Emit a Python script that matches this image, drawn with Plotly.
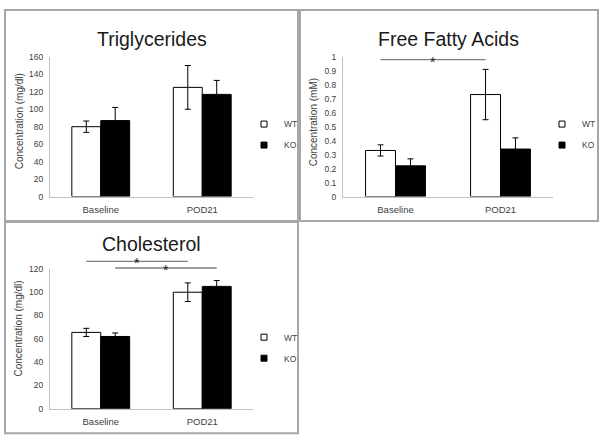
import plotly.graph_objects as go

W, H = 602, 444

# ---------------- data ----------------
categories = ["Baseline", "POD21"]
groups = ["WT", "KO"]

tg_wt = [80, 125]
tg_wt_err = [6.5, 25]
tg_ko = [87, 117]
tg_ko_err = [15, 16]

ffa_wt = [0.33, 0.73]
ffa_wt_err = [0.04, 0.18]
ffa_ko = [0.22, 0.34]
ffa_ko_err = [0.05, 0.08]

chol_wt = [65.5, 100]
chol_wt_err = [3.5, 8]
chol_ko = [62, 105]
chol_ko_err = [3, 5]

# significance brackets: (group, from category, to category, level)
ffa_sig = [("WT", 0, 1, 0.98)]
chol_sig = [("WT", 0, 1, 126.5), ("KO", 0, 1, 120.8)]

panels = [
    dict(key="1", title="Triglycerides", ytitle="Concentration (mg/dl)",
         wt=tg_wt, wte=tg_wt_err, ko=tg_ko, koe=tg_ko_err, ymax=160, dtick=20, sig=[],
         plot=(50, 253, 53, 196), box=(5, 298, 5, 221), legend=(263, 119),
         ytx=19, yty=119, ty=35),
    dict(key="2", title="Free Fatty Acids", ytitle="Concentration (mM)",
         wt=ffa_wt, wte=ffa_wt_err, ko=ffa_ko, koe=ffa_ko_err, ymax=1.0, dtick=0.1, sig=ffa_sig,
         plot=(343, 553, 53, 196), box=(300, 598, 5, 221), legend=(561, 119),
         ytx=313, yty=120, ty=35),
    dict(key="3", title="Cholesterol", ytitle="Concentration (mg/dl)",
         wt=chol_wt, wte=chol_wt_err, ko=chol_ko, koe=chol_ko_err, ymax=120, dtick=20, sig=chol_sig,
         plot=(50, 253, 270, 413), box=(5, 298, 222, 438), legend=(263, 337),
         ytx=19, yty=331, ty=245),
]

FONT = "Liberation Sans, Arial, sans-serif"
TXT = "#404040"
BARGAP = 0.43


def px(x):
    return x / W


def py(y):
    return 1 - y / H


fig = go.Figure()
shapes = []
annotations = []
layout = dict(width=W, height=H, margin=dict(l=0, r=0, t=0, b=0),
              paper_bgcolor="white", plot_bgcolor="white", showlegend=True,
              barmode="group", bargap=BARGAP, bargroupgap=0,
              font=dict(family=FONT, color=TXT))

for i, p in enumerate(panels):
    k = p["key"]
    xa = "x" if k == "1" else "x" + k
    ya = "y" if k == "1" else "y" + k
    lg = "legend" if k == "1" else "legend" + k
    x0, x1, y0, y1 = p["plot"]

    for name, vals, errs, fill in [("WT", p["wt"], p["wte"], "white"),
                                   ("KO", p["ko"], p["koe"], "black")]:
        fig.add_trace(go.Bar(
            x=categories, y=vals, name=name, xaxis=xa, yaxis=ya,
            marker=dict(color=fill, line=dict(color="black", width=1)),
            error_y=dict(type="data", array=errs, color="black", thickness=1, width=3),
            showlegend=False, offsetgroup=name,
        ))
        # legend entry
        fig.add_trace(go.Scatter(
            x=[None], y=[None], mode="markers", name=name, xaxis=xa, yaxis=ya,
            marker=dict(symbol="square", size=6, color=fill, line=dict(color="black", width=1)),
            legend=lg, legendgroup=name + k, showlegend=True,
        ))

    layout["xaxis" + ("" if k == "1" else k)] = dict(
        domain=[px(x0), px(x1)], anchor=ya, showline=True, linecolor="#c0c0c0", linewidth=1,
        showgrid=False, zeroline=False, ticks="", fixedrange=True, ticklabelstandoff=4,
        tickfont=dict(size=9.5, color=TXT, family=FONT), range=[-0.5, 1.5])
    layout["yaxis" + ("" if k == "1" else k)] = dict(
        domain=[py(y1), py(y0)], anchor=xa, range=[0, p["ymax"]], dtick=p["dtick"],
        showline=True, linecolor="#c0c0c0", linewidth=1, showgrid=False, zeroline=False,
        ticks="", ticklabelstandoff=4, fixedrange=True,
        tickfont=dict(size=8.5, color=TXT, family=FONT))

    lx, ly = p["legend"]
    layout[lg] = dict(x=px(lx - 19), y=py(ly - 12), xanchor="left", yanchor="top",
                      bgcolor="rgba(0,0,0,0)", font=dict(size=8.5, color=TXT, family=FONT),
                      tracegroupgap=2, itemsizing="trace")

    # panel border
    bx0, bx1, by0, by1 = p["box"]
    shapes.append(dict(type="rect", xref="paper", yref="paper", x0=px(bx0), x1=px(bx1),
                       y0=py(by1), y1=py(by0), line=dict(color="#a6a6a6", width=2)))
    # title
    annotations.append(dict(text=p["title"], xref="paper", yref="paper",
                            x=px((x0 + x1) / 2), y=py(p["ty"]),
                            xanchor="center", yanchor="middle", showarrow=False,
                            font=dict(size=19.5, color="#1a1a1a", family=FONT)))
    # y axis title
    annotations.append(dict(text=p["ytitle"], xref="paper", yref="paper",
                            x=px(p["ytx"]), y=py(p["yty"]), textangle=-90,
                            xanchor="center", yanchor="middle", showarrow=False,
                            font=dict(size=10, color=TXT, family=FONT)))
    # significance lines
    half = (1 - BARGAP) / 2
    for grp, c0, c1, lvl in p["sig"]:
        off = -half / 2 if grp == "WT" else half / 2
        xs0, xs1 = c0 + off, c1 + off
        shapes.append(dict(type="line", xref=xa, yref=ya + " domain", x0=xs0, x1=xs1,
                           y0=lvl / p["ymax"], y1=lvl / p["ymax"],
                           line=dict(color="#7f7f7f", width=1.3)))
        annotations.append(dict(text="*", xref=xa, yref=ya + " domain",
                                x=(xs0 + xs1) / 2, y=lvl / p["ymax"], yshift=-2,
                                xanchor="center", yanchor="middle", showarrow=False,
                                font=dict(size=14, color="#1a1a1a", family=FONT)))

layout["shapes"] = shapes
layout["annotations"] = annotations
fig.update_layout(**layout)
fig.write_html(
    "out.html",
    config={"displayModeBar": False},
    post_script="document.body.style.margin='0';document.body.style.padding='0';"
                "document.body.style.overflow='hidden';",
)
